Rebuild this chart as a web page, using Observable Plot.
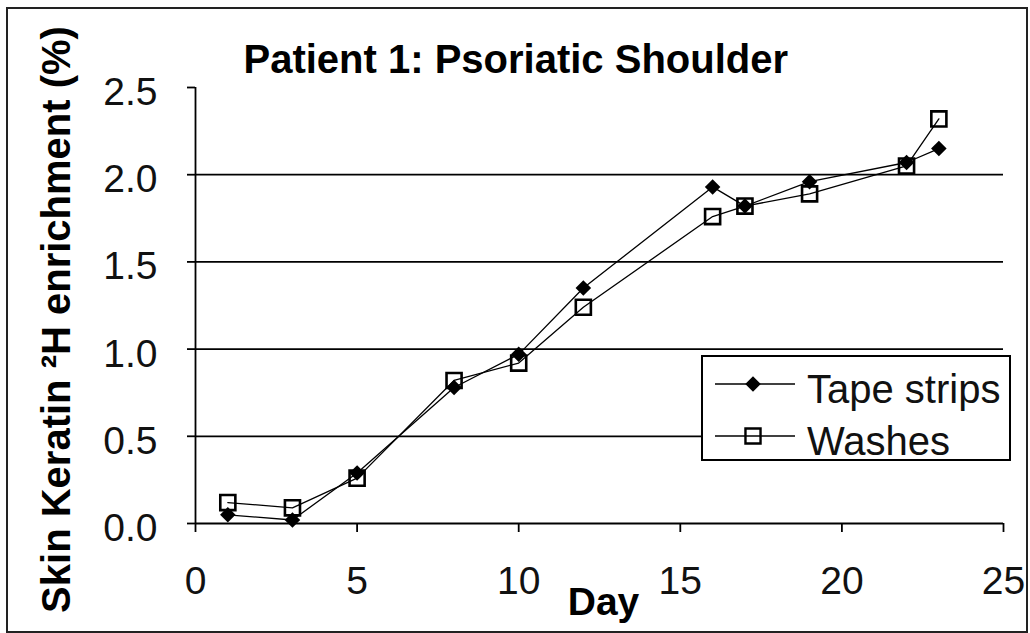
<!DOCTYPE html>
<html>
<head>
<meta charset="utf-8">
<script src="https://cdn.jsdelivr.net/npm/d3@7"></script>
<script src="https://cdn.jsdelivr.net/npm/@observablehq/plot@0.6"></script>
<style>
  html, body { margin: 0; padding: 0; background: white; overflow: hidden; }
</style>
</head>
<body>
<div id="chart"></div>
<script>
// ---- data ----
const days   = [1, 3, 5, 8, 10, 12, 16, 17, 19, 22, 23];
const tape   = [0.05, 0.02, 0.29, 0.78, 0.97, 1.35, 1.93, 1.82, 1.96, 2.07, 2.15];
const washes = [0.12, 0.09, 0.26, 0.82, 0.92, 1.24, 1.76, 1.82, 1.89, 2.05, 2.32];
const seriesNames = ["Tape strips", "Washes"];
const xTicks = [0, 5, 10, 15, 20, 25];
const yTicks = [0, 0.5, 1.0, 1.5, 2.0, 2.5];
const gridValues = [0.5, 1.0, 1.5, 2.0];
const titleText = "Patient 1: Psoriatic Shoulder";
const yLabelText = "Skin Keratin \u00B2H enrichment (%)";
const xLabelText = "Day";

const tapeRows = days.map((d, i) => ({day: d, value: tape[i]}));
const washRows = days.map((d, i) => ({day: d, value: washes[i]}));

const FONT = "'Liberation Sans', Arial, Helvetica, sans-serif";
const W = 1030, H = 633;
const rDiamond = 7;
const rSquare = 8.5;

const svg = Plot.plot({
  width: W,
  height: H,
  marginLeft: 195,
  marginRight: 27,
  marginTop: 87,
  marginBottom: 110,
  style: {fontFamily: FONT, background: "white", color: "black"},
  x: {domain: [0, 25]},
  y: {domain: [0, 2.5]},
  marks: [
    Plot.ruleY(gridValues, {stroke: "black", strokeWidth: 1.8}),
    Plot.ruleY([0], {stroke: "black", strokeWidth: 1.8}),
    Plot.ruleX([0], {stroke: "black", strokeWidth: 1.8}),
    // y ticks (marks only)
    Plot.axisY({ticks: yTicks, tickSize: 8, strokeWidth: 1.8, fill: "none", label: null}),
    // y tick labels
    Plot.axisY({ticks: yTicks, tickSize: 0, tickPadding: 38, dy: 5, tickFormat: d3.format(".1f"),
                fontSize: 39, stroke: "none", fill: "#111", label: null}),
    // x ticks
    Plot.axisX({ticks: xTicks, tickSize: 9, strokeWidth: 1.8, fill: "none", label: null}),
    Plot.axisX({ticks: xTicks, tickSize: 0, tickPadding: 43, tickFormat: d3.format("d"),
                fontSize: 39, stroke: "none", fill: "#111", label: null}),
    // series lines
    Plot.line(tapeRows, {x: "day", y: "value", stroke: "black", strokeWidth: 1.3}),
    Plot.line(washRows, {x: "day", y: "value", stroke: "black", strokeWidth: 1.3}),
    // markers
    Plot.dot(washRows, {x: "day", y: "value", symbol: "square", r: rSquare, fill: "none", stroke: "black", strokeWidth: 2.6}),
    Plot.dot(tapeRows, {x: "day", y: "value", symbol: "diamond2", r: rDiamond, fill: "black", stroke: "none"}),
    // title
    Plot.text([titleText], {text: d => d, frameAnchor: "top-left", textAnchor: "start", lineAnchor: "top",
                            dx: 48, dy: -43, fontSize: 40, fontWeight: "bold", fill: "black"}),
    // y label
    Plot.text([yLabelText], {text: d => d, frameAnchor: "left", rotate: -90, textAnchor: "middle", lineAnchor: "top",
                             dx: -154, dy: 14, fontSize: 40, fontWeight: "bold", fill: "black"}),
    // x label
    Plot.text([xLabelText], {text: d => d, frameAnchor: "bottom", textAnchor: "middle", lineAnchor: "top",
                             dx: 4, dy: 64, fontSize: 39, fontWeight: "bold", fill: "black"})
  ]
});

// ---- legend ----
const s = d3.select(svg);
const leg = s.append("g").attr("font-family", FONT).attr("text-anchor", "start");
leg.append("rect").attr("x", 702).attr("y", 356).attr("width", 308).attr("height", 104)
   .attr("fill", "white").attr("stroke", "black").attr("stroke-width", 2);
const entries = [
  {name: seriesNames[0], y: 384, ty: 403, sym: d3.symbolDiamond2, size: Math.PI * rDiamond * rDiamond, fill: "black", stroke: "none", sw: 0},
  {name: seriesNames[1], y: 436, ty: 455, sym: d3.symbolSquare, size: Math.PI * rSquare * rSquare, fill: "none", stroke: "black", sw: 2.4}
];
for (const e of entries) {
  leg.append("line").attr("x1", 715).attr("x2", 795).attr("y1", e.y).attr("y2", e.y)
     .attr("stroke", "black").attr("stroke-width", 1.3);
  leg.append("path").attr("d", d3.symbol(e.sym, e.size)()).attr("transform", `translate(753,${e.y})`)
     .attr("fill", e.fill).attr("stroke", e.stroke).attr("stroke-width", e.sw);
  leg.append("text").attr("x", 807).attr("y", e.ty).attr("font-size", 40)
     .attr("text-anchor", "start").attr("fill", "#111").text(e.name);
}
// outer border
s.append("rect").attr("x", 7).attr("y", 8).attr("width", 1020).attr("height", 624)
 .attr("fill", "none").attr("stroke", "#222").attr("stroke-width", 2);

document.getElementById("chart").appendChild(svg);
</script>
</body>
</html>
